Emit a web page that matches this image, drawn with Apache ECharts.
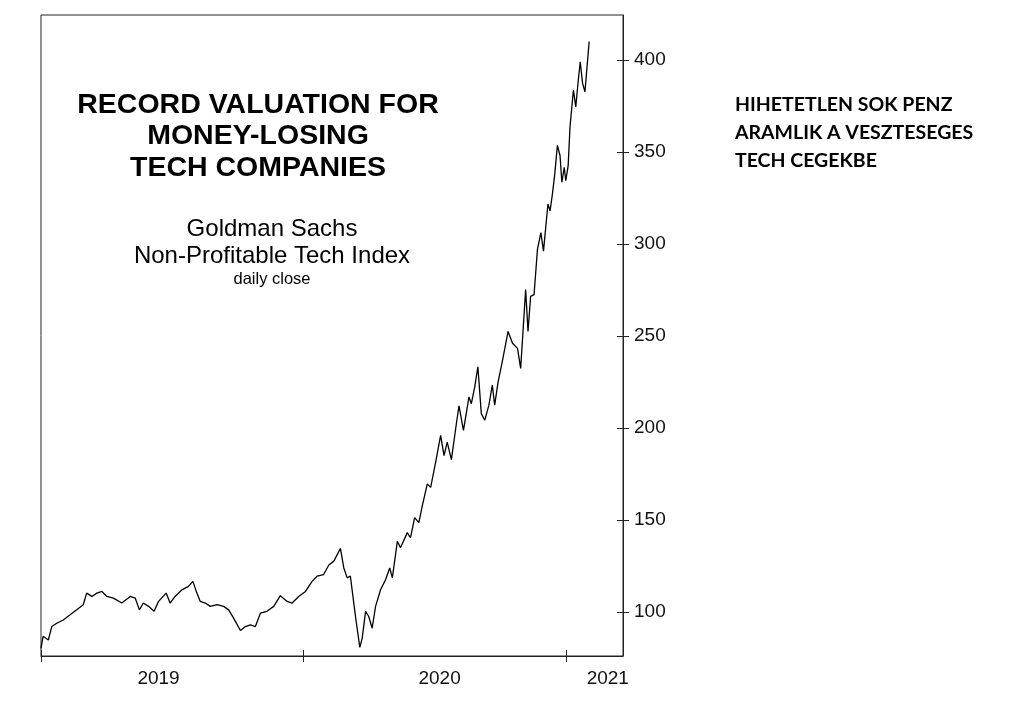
<!DOCTYPE html>
<html>
<head>
<meta charset="utf-8">
<script src="https://cdn.jsdelivr.net/npm/echarts@6/dist/echarts.min.js"></script>
<style>
html,body{margin:0;padding:0;background:#fff;}
#chart{width:1014px;height:720px;}
</style>
</head>
<body>
<div id="chart"></div>
<script>
// Decimal year of each reading
var years = [
2019.000,2019.008,2019.015,2019.028,2019.041,2019.060,2019.085,2019.111,2019.136,2019.161,
2019.174,2019.194,2019.213,2019.232,2019.251,2019.276,2019.308,2019.340,2019.359,2019.375,
2019.390,2019.410,2019.431,2019.448,2019.477,2019.492,2019.511,2019.537,2019.562,2019.579,
2019.594,2019.607,2019.626,2019.645,2019.671,2019.696,2019.715,2019.734,2019.760,2019.779,
2019.798,2019.817,2019.836,2019.861,2019.887,2019.912,2019.938,2019.957,2019.982,2020.008,
2020.033,2020.052,2020.077,2020.097,2020.116,2020.122,2020.141,2020.154,2020.167,2020.179,
2020.192,2020.202,2020.215,2020.224,2020.237,2020.249,2020.262,2020.275,2020.294,2020.313,
2020.329,2020.339,2020.358,2020.370,2020.396,2020.408,2020.424,2020.440,2020.453,2020.472,
2020.485,2020.504,2020.523,2020.536,2020.548,2020.564,2020.584,2020.593,2020.610,2020.631,
2020.640,2020.653,2020.665,2020.678,2020.691,2020.707,2020.720,2020.729,2020.742,2020.758,
2020.780,2020.797,2020.816,2020.828,2020.847,2020.856,2020.866,2020.879,2020.892,2020.905,
2020.915,2020.932,2020.940,2020.949,2020.958,2020.968,2020.978,2020.985,2020.994,2021.000,
2021.009,2021.016,2021.029,2021.038,2021.047,2021.055,2021.064,2021.073,2021.089
];
// Daily close of the index
var closes = [
80.2,86.7,87.4,84.7,92.0,93.8,95.6,98.4,101.1,103.9,
110.2,108.4,110.2,111.1,108.4,107.5,104.8,108.4,107.5,101.1,
104.8,103.0,100.3,105.7,110.2,104.8,108.4,112.0,113.9,116.6,
110.2,105.7,104.8,103.0,103.9,103.0,101.1,96.6,89.9,92.0,
92.9,92.0,99.3,100.3,103.0,108.8,105.7,104.8,108.4,111.1,
116.6,119.4,120.3,125.5,127.6,128.5,134.5,123.9,118.5,119.4,
104.8,93.8,80.7,85.6,100.3,97.5,91.1,103.0,112.0,117.5,
123.9,118.5,138.4,134.9,143.1,140.3,151.3,148.5,157.6,169.5,
167.7,181.4,196.0,185.0,192.3,182.8,203.4,212.0,198.7,216.9,
213.2,222.4,233.3,207.8,204.2,212.4,223.3,212.4,225.1,236.1,
252.5,246.1,243.3,232.4,275.3,252.5,271.6,272.5,297.2,306.2,
296.2,321.8,318.1,327.2,338.2,353.7,348.2,333.6,341.8,334.5,
342.7,363.7,383.8,374.6,388.3,399.2,387.4,382.8,410.2
];
var yearTicks = [2019, 2020, 2021];
var yearLabels = ['2019', '2020', '2021'];
var valueTicks = [100, 150, 200, 250, 300, 350, 400];

var titleText = 'RECORD VALUATION FOR\nMONEY-LOSING\nTECH COMPANIES';
var subText = 'Goldman Sachs\nNon-Profitable Tech Index';
var noteText = 'daily close';
var sideText = 'HIHETETLEN SOK PENZ\nARAMLIK A VESZTESEGES\nTECH CEGEKBE';

var seriesData = years.map(function (y, i) { return [y, closes[i]]; });
var labelPos = [2019.448, 2020.519, 2021.160];

var chart = echarts.init(document.getElementById('chart'), null, {renderer: 'canvas'});
var axisColor = '#222';
var font = 'Liberation Sans, Arial, sans-serif';

chart.setOption({
  animation: false,
  backgroundColor: '#fff',
  grid: {left: 41, right: 391, top: 15, bottom: 64, show: true, borderColor: axisColor, borderWidth: 1, containLabel: false},
  title: [
    {text: titleText, left: 258, top: 89, textAlign: 'center', padding: 0,
     textStyle: {fontFamily: font, fontWeight: 'bold', fontSize: 28.5, lineHeight: 31.5, color: '#000'}},
    {text: subText, left: 272, top: 216, textAlign: 'center', padding: 0,
     textStyle: {fontFamily: font, fontWeight: 'normal', fontSize: 24, lineHeight: 27, color: '#000'}},
    {text: noteText, left: 272, top: 270, textAlign: 'center', padding: 0,
     textStyle: {fontFamily: font, fontWeight: 'normal', fontSize: 16.5, lineHeight: 18, color: '#000'}},
    {text: sideText, left: 735, top: 91, textAlign: 'left', padding: 0,
     textStyle: {fontFamily: 'Lato, sans-serif', fontWeight: 'bold', fontSize: 19.5, lineHeight: 28, color: '#000'}}
  ],
  xAxis: [
    {type: 'value', min: 2019, max: 2021.218, position: 'bottom',
     axisLine: {show: true, lineStyle: {color: axisColor, width: 1}},
     axisTick: {show: true, inside: false, length: 6, customValues: yearTicks, lineStyle: {color: axisColor}},
     axisLabel: {show: true, customValues: labelPos, margin: 13, color: '#111', fontFamily: font, fontSize: 19,
       formatter: function (v) { return yearLabels[Math.floor(v + 1e-6) - 2019]; }},
     splitLine: {show: false}},
    {type: 'value', min: 2019, max: 2021.218, position: 'bottom',
     axisLine: {show: false},
     axisTick: {show: true, inside: true, length: 6, customValues: yearTicks, lineStyle: {color: axisColor}},
     axisLabel: {show: false},
     splitLine: {show: false}}
  ],
  yAxis: [
    {type: 'value', min: 76, max: 424.6, position: 'right',
     axisLine: {show: true, lineStyle: {color: axisColor, width: 1}},
     axisTick: {show: true, inside: false, length: 6, customValues: valueTicks, lineStyle: {color: axisColor}},
     axisLabel: {show: true, customValues: valueTicks, margin: 11, color: '#111', fontFamily: font, fontSize: 19},
     splitLine: {show: false}},
    {type: 'value', min: 76, max: 424.6, position: 'right',
     axisLine: {show: false},
     axisTick: {show: true, inside: true, length: 6, customValues: valueTicks, lineStyle: {color: axisColor}},
     axisLabel: {show: false},
     splitLine: {show: false}}
  ],
  series: [{
    type: 'line',
    xAxisIndex: 0,
    yAxisIndex: 0,
    data: seriesData,
    showSymbol: false,
    symbol: 'none',
    lineStyle: {color: '#000', width: 1.3},
    silent: true
  }]
});
</script>
</body>
</html>
